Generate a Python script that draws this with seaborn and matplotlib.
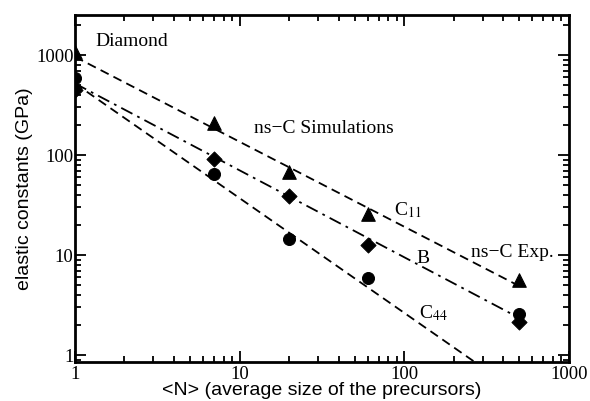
import matplotlib
matplotlib.use("Agg")
import matplotlib.pyplot as plt
from matplotlib.ticker import LogLocator, NullFormatter, FixedLocator, FixedFormatter
import pandas as pd
import seaborn as sns

# data
sizes = [1, 7, 20, 60, 500]
c11 = [1070, 209, 67, 26, 5.6]
c44 = [590, 64, 14.5, 5.9, 2.6]
bulk = [447, 91, 39, 12.6, 2.14]

# fitted power-law lines (end points)
fit_n = [1, 500]
fit_c11 = [960, 4.9]
fit_bulk = [520, 2.35]
fit_c44_n = [1, 300]
fit_c44 = [520, 0.75]

sns.set_style("ticks")
plt.rcParams["mathtext.fontset"] = "stix"
plt.rcParams["text.color"] = "black"
plt.rcParams["axes.labelcolor"] = "black"
serif = ["Liberation Serif", "DejaVu Serif"]
sans = ["Liberation Sans", "DejaVu Sans"]

fig, ax = plt.subplots(figsize=(5.9, 4.01), dpi=100)
fig.subplots_adjust(left=0.127, right=0.964, top=0.962, bottom=0.097)

pts = pd.DataFrame({"N": sizes, "C11": c11, "C44": c44, "B": bulk})

sns.lineplot(x=fit_n, y=fit_c11, ax=ax, color="black", lw=1.3, linestyle=(0, (5, 3)))
sns.lineplot(x=fit_n, y=fit_bulk, ax=ax, color="black", lw=1.3, linestyle=(0, (7, 3, 1.5, 3)))
sns.lineplot(x=fit_c44_n, y=fit_c44, ax=ax, color="black", lw=1.3, linestyle=(0, (5, 3)))

sns.scatterplot(data=pts, x="N", y="C11", ax=ax, marker="^", s=95, color="black", edgecolor="black", zorder=5)
sns.scatterplot(data=pts, x="N", y="C44", ax=ax, marker="o", s=75, color="black", edgecolor="black", zorder=5)
sns.scatterplot(data=pts, x="N", y="B", ax=ax, marker="D", s=60, color="black", edgecolor="black", zorder=5)

ax.set_xscale("log")
ax.set_yscale("log")
ax.set_xlim(1, 1000)
ax.set_ylim(0.85, 2500)

ax.xaxis.set_major_locator(FixedLocator([1, 10, 100, 1000]))
ax.xaxis.set_major_formatter(FixedFormatter(["1", "10", "100", "1000"]))
ax.yaxis.set_major_locator(FixedLocator([1, 10, 100, 1000]))
ax.yaxis.set_major_formatter(FixedFormatter(["1", "10", "100", "1000"]))
ax.xaxis.set_minor_locator(LogLocator(base=10, subs=range(2, 10)))
ax.yaxis.set_minor_locator(LogLocator(base=10, subs=range(2, 10)))
ax.xaxis.set_minor_formatter(NullFormatter())
ax.yaxis.set_minor_formatter(NullFormatter())

ax.tick_params(which="both", direction="in", top=True, right=True, width=1.3,
               colors="black", labelcolor="black")
ax.tick_params(which="major", length=8)
ax.tick_params(which="minor", length=4)
for lab in ax.get_xticklabels() + ax.get_yticklabels():
    lab.set_family(serif)
    lab.set_fontsize(13.5)
ax.tick_params(axis="x", pad=3)
ax.tick_params(axis="y", pad=1)

for sp in ax.spines.values():
    sp.set_linewidth(2)
    sp.set_color("black")

ax.set_xlabel("<N> (average size of the precursors)", family=sans, fontsize=14, labelpad=-1)
ax.set_ylabel("elastic constants (GPa)", family=sans, fontsize=14, labelpad=2)

tx = dict(family=serif, fontsize=14, color="black", va="center")
ax.text(1.34, 1350, "Diamond", **tx)
ax.text(12.3, 186, "ns\u2212C Simulations", **tx)
ax.text(87, 28, "C$_{\\mathrm{11}}$", **tx)
ax.text(118, 9.3, "B", **tx)
ax.text(123, 2.6, "C$_{\\mathrm{44}}$", **tx)
ax.text(254, 10.7, "ns\u2212C Exp.", **tx)

fig.savefig("out.png", dpi=100)
